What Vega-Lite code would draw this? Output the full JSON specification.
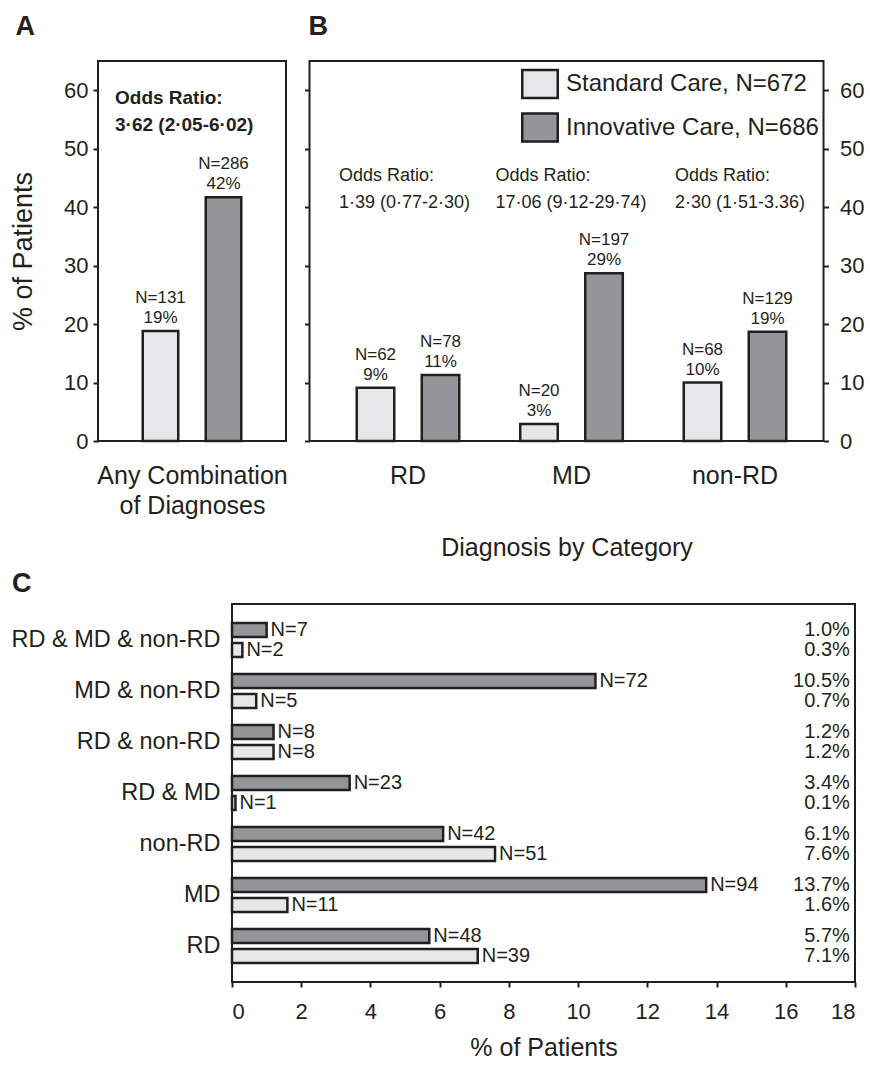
{
  "$schema": "https://vega.github.io/schema/vega-lite/v6.json",
  "padding": {"left": 8, "top": 12, "right": 2, "bottom": 2},
  "background": "white",
  "config": {
    "font": "Liberation Sans",
    "view": {"stroke": "#231F20", "strokeWidth": 2},
    "axis": {"domainColor": "#231F20", "tickColor": "#231F20", "labelColor": "#231F20", "titleColor": "#231F20", "grid": false, "titleFontWeight": "normal", "domainWidth": 2, "tickWidth": 2, "labelFont": "Liberation Sans", "titleFont": "Liberation Sans"},
    "title": {"anchor": "start", "fontSize": 27, "fontWeight": "bold", "color": "#231F20", "font": "Liberation Sans"},
    "text": {"color": "#231F20", "font": "Liberation Sans"},
    "legend": {"labelFont": "Liberation Sans"}
  },
  "datasets": {
    "overall": [
      {"diag": "Any Combination of Diagnoses", "care": "Standard Care, N=672", "pct": 18.8, "label": "N=131\n19%"},
      {"diag": "Any Combination of Diagnoses", "care": "Innovative Care, N=686", "pct": 41.7, "label": "N=286\n42%"}
    ],
    "overallodds": [
      {"diag": "Any Combination of Diagnoses", "ortext": "Odds Ratio:\n3·62 (2·05-6·02)"}
    ],
    "bycat": [
      {"diag": "RD", "care": "Standard Care, N=672", "pct": 9.1, "label": "N=62\n9%"},
      {"diag": "RD", "care": "Innovative Care, N=686", "pct": 11.3, "label": "N=78\n11%"},
      {"diag": "MD", "care": "Standard Care, N=672", "pct": 2.9, "label": "N=20\n3%"},
      {"diag": "MD", "care": "Innovative Care, N=686", "pct": 28.7, "label": "N=197\n29%"},
      {"diag": "non-RD", "care": "Standard Care, N=672", "pct": 10.0, "label": "N=68\n10%"},
      {"diag": "non-RD", "care": "Innovative Care, N=686", "pct": 18.7, "label": "N=129\n19%"}
    ],
    "catodds": [
      {"diag": "RD", "ortext": "Odds Ratio:\n1·39 (0·77-2·30)"},
      {"diag": "MD", "ortext": "Odds Ratio:\n17·06 (9·12-29·74)"},
      {"diag": "non-RD", "ortext": "Odds Ratio:\n2·30 (1·51-3.36)"}
    ],
    "spacer": [{"s": 0}],
    "combo": [
      {"combo": "RD & MD & non-RD", "care": "Innovative Care, N=686", "pct": 1.0, "n": "N=7", "pctlabel": "1.0%"},
      {"combo": "RD & MD & non-RD", "care": "Standard Care, N=672", "pct": 0.3, "n": "N=2", "pctlabel": "0.3%"},
      {"combo": "MD & non-RD", "care": "Innovative Care, N=686", "pct": 10.5, "n": "N=72", "pctlabel": "10.5%"},
      {"combo": "MD & non-RD", "care": "Standard Care, N=672", "pct": 0.7, "n": "N=5", "pctlabel": "0.7%"},
      {"combo": "RD & non-RD", "care": "Innovative Care, N=686", "pct": 1.2, "n": "N=8", "pctlabel": "1.2%"},
      {"combo": "RD & non-RD", "care": "Standard Care, N=672", "pct": 1.2, "n": "N=8", "pctlabel": "1.2%"},
      {"combo": "RD & MD", "care": "Innovative Care, N=686", "pct": 3.4, "n": "N=23", "pctlabel": "3.4%"},
      {"combo": "RD & MD", "care": "Standard Care, N=672", "pct": 0.1, "n": "N=1", "pctlabel": "0.1%"},
      {"combo": "non-RD", "care": "Innovative Care, N=686", "pct": 6.1, "n": "N=42", "pctlabel": "6.1%"},
      {"combo": "non-RD", "care": "Standard Care, N=672", "pct": 7.6, "n": "N=51", "pctlabel": "7.6%"},
      {"combo": "MD", "care": "Innovative Care, N=686", "pct": 13.7, "n": "N=94", "pctlabel": "13.7%"},
      {"combo": "MD", "care": "Standard Care, N=672", "pct": 1.6, "n": "N=11", "pctlabel": "1.6%"},
      {"combo": "RD", "care": "Innovative Care, N=686", "pct": 5.7, "n": "N=48", "pctlabel": "5.7%"},
      {"combo": "RD", "care": "Standard Care, N=672", "pct": 7.1, "n": "N=39", "pctlabel": "7.1%"}
    ]
  },
  "spacing": 8,
  "resolve": {"scale": {"fill": "independent", "xOffset": "independent", "yOffset": "independent"}, "legend": {"fill": "independent"}},
  "vconcat": [
    {
      "spacing": 13.5,
      "resolve": {"scale": {"fill": "independent", "xOffset": "independent", "y": "independent", "x": "independent"}, "legend": {"fill": "independent"}},
      "hconcat": [
        {
          "title": {"text": "A", "frame": "bounds", "offset": 20, "dx": 6},
          "width": 188,
          "height": 380,
          "layer": [
            {
              "data": {"name": "overall"},
              "mark": {"type": "bar", "stroke": "#231F20", "strokeWidth": 2.5},
              "encoding": {
                "x": {"field": "diag", "type": "nominal", "scale": {"paddingInner": 0, "paddingOuter": 0},
                      "axis": {"labels": false, "ticks": false, "domain": false, "title": ["Any Combination", "of Diagnoses"], "titleFontSize": 25, "titlePadding": 22, "titleLineHeight": 30}},
                "y": {"field": "pct", "type": "quantitative", "scale": {"domain": [0, 65], "nice": false},
                      "axis": {"values": [0, 10, 20, 30, 40, 50, 60], "title": "% of Patients", "titleFontSize": 27, "labelFontSize": 22, "tickSize": 5, "labelPadding": 5, "titlePadding": 26, "domain": false}},
                "xOffset": {"field": "care", "type": "nominal", "sort": ["Standard Care, N=672", "Innovative Care, N=686"], "scale": {"paddingInner": 0.4365, "paddingOuter": 0.7103}},
                "fill": {"field": "care", "type": "nominal", "scale": {"domain": ["Standard Care, N=672", "Innovative Care, N=686"], "range": ["#E6E7E8", "#939598"]}, "legend": null}
              }
            },
            {
              "data": {"name": "overall"},
              "mark": {"type": "text", "baseline": "bottom", "dy": -24, "fontSize": 17, "lineBreak": "\n", "lineHeight": 20},
              "encoding": {
                "x": {"field": "diag", "type": "nominal"},
                "y": {"field": "pct", "type": "quantitative"},
                "xOffset": {"field": "care", "type": "nominal", "sort": ["Standard Care, N=672", "Innovative Care, N=686"]},
                "text": {"field": "label", "type": "nominal"}
              }
            },
            {
              "data": {"name": "overallodds"},
              "mark": {"type": "text", "align": "left", "baseline": "middle", "dx": -77, "fontSize": 19, "fontWeight": "bold", "lineBreak": "\n", "lineHeight": 27},
              "encoding": {
                "x": {"field": "diag", "type": "nominal"},
                "y": {"datum": 58.6, "type": "quantitative"},
                "text": {"field": "ortext", "type": "nominal"}
              }
            }
          ]
        },
        {
          "title": {"text": "B", "frame": "bounds", "offset": 20, "dx": 5},
          "width": 514,
          "height": 380,
          "resolve": {"axis": {"y": "independent"}},
          "layer": [
            {
              "data": {"name": "bycat"},
              "mark": {"type": "bar", "stroke": "#231F20", "strokeWidth": 2.5},
              "encoding": {
                "x": {"field": "diag", "type": "nominal", "sort": ["RD", "MD", "non-RD"], "scale": {"paddingInner": 0, "paddingOuter": 0.0719, "align": 0.713},
                      "axis": {"labelAngle": 0, "ticks": false, "domain": false, "labelFontSize": 25, "labelPadding": 22, "title": "Diagnosis by Category", "titleFontSize": 25, "titlePadding": 47}},
                "y": {"field": "pct", "type": "quantitative", "scale": {"domain": [0, 65], "nice": false},
                      "axis": {"orient": "left", "values": [0, 10, 20, 30, 40, 50, 60], "labels": false, "title": null, "tickSize": 5, "domain": false}},
                "xOffset": {"field": "care", "type": "nominal", "sort": ["Standard Care, N=672", "Innovative Care, N=686"], "scale": {"paddingInner": 0.423, "paddingOuter": 0.469}},
                "fill": {"field": "care", "type": "nominal", "sort": ["Standard Care, N=672", "Innovative Care, N=686"],
                         "scale": {"domain": ["Standard Care, N=672", "Innovative Care, N=686"], "range": ["#E6E7E8", "#939598"]},
                         "legend": {"title": null, "orient": "none", "legendX": 211.5, "legendY": 4, "padding": 0, "labelFontSize": 24, "labelColor": "#231F20", "labelOffset": 7, "rowPadding": 3.5, "symbolType": "M-1,-0.79H1V0.79H-1Z", "symbolSize": 1260, "symbolStrokeColor": "#231F20", "symbolStrokeWidth": 2.5, "symbolOpacity": 1, "labelLimit": 400}}
              }
            },
            {
              "data": {"name": "bycat"},
              "mark": {"type": "text", "baseline": "bottom", "dy": -24, "fontSize": 17, "lineBreak": "\n", "lineHeight": 20},
              "encoding": {
                "x": {"field": "diag", "type": "nominal", "sort": ["RD", "MD", "non-RD"]},
                "y": {"field": "pct", "type": "quantitative",
                      "axis": {"orient": "right", "values": [0, 10, 20, 30, 40, 50, 60], "title": null, "labelFontSize": 22, "tickSize": 5, "labelPadding": 11, "domain": false}},
                "xOffset": {"field": "care", "type": "nominal", "sort": ["Standard Care, N=672", "Innovative Care, N=686"]},
                "text": {"field": "label", "type": "nominal"}
              }
            },
            {
              "data": {"name": "catodds"},
              "mark": {"type": "text", "align": "left", "baseline": "middle", "dx": {"expr": "datum.diag == 'MD' ? -76 : datum.diag == 'non-RD' ? -60 : -69"}, "fontSize": 18, "lineBreak": "\n", "lineHeight": 27},
              "encoding": {
                "x": {"field": "diag", "type": "nominal", "sort": ["RD", "MD", "non-RD"]},
                "y": {"datum": 45.4, "type": "quantitative", "axis": null},
                "text": {"field": "ortext", "type": "nominal"}
              }
            }
          ]
        }
      ]
    },
    {
      "spacing": -92,
      "hconcat": [
        {
          "width": 1,
          "height": 1,
          "view": {"stroke": null},
          "data": {"name": "spacer"},
          "mark": {"type": "point", "opacity": 0},
          "encoding": {}
        },
        {
          "title": {"text": "C", "frame": "bounds", "offset": 6, "dx": 1},
          "width": 623,
          "height": 378,
          "data": {"name": "combo"},
          "encoding": {
            "y": {"field": "combo", "type": "nominal", "sort": ["RD & MD & non-RD", "MD & non-RD", "RD & non-RD", "RD & MD", "non-RD", "MD", "RD"], "scale": {"paddingInner": 0, "paddingOuter": 0.206},
                  "axis": {"title": null, "ticks": false, "domain": false, "labelFontSize": 23.5, "labelPadding": 12, "labelLimit": 300}},
            "yOffset": {"field": "care", "type": "nominal", "sort": ["Innovative Care, N=686", "Standard Care, N=672"], "scale": {"paddingInner": 0.3, "paddingOuter": 0.42}}
          },
          "layer": [
            {
              "mark": {"type": "bar", "stroke": "#231F20", "strokeWidth": 2.5},
              "encoding": {
                "x": {"field": "pct", "type": "quantitative", "scale": {"domain": [0, 18], "nice": false},
                      "axis": {"values": [0, 1, 2, 3, 4, 5, 6, 7, 8, 9, 10, 11, 12, 13, 14, 15, 16, 17, 18], "labelExpr": "datum.value % 2 ? '' : datum.label", "tickSize": {"condition": {"test": "datum.value % 2 == 1", "value": 3}, "value": 5}, "labelFontSize": 22, "labelPadding": 14, "title": "% of Patients", "titleFontSize": 25, "titlePadding": 13, "domain": false}},
                "fill": {"field": "care", "type": "nominal", "scale": {"domain": ["Standard Care, N=672", "Innovative Care, N=686"], "range": ["#E6E7E8", "#939598"]}, "legend": null}
              }
            },
            {
              "mark": {"type": "text", "align": "left", "baseline": "middle", "dx": 4, "fontSize": 20},
              "encoding": {
                "x": {"field": "pct", "type": "quantitative"},
                "text": {"field": "n", "type": "nominal"}
              }
            },
            {
              "mark": {"type": "text", "align": "right", "baseline": "middle", "fontSize": 20},
              "encoding": {
                "x": {"datum": 17.85},
                "text": {"field": "pctlabel", "type": "nominal"}
              }
            }
          ]
        }
      ]
    }
  ]
}
